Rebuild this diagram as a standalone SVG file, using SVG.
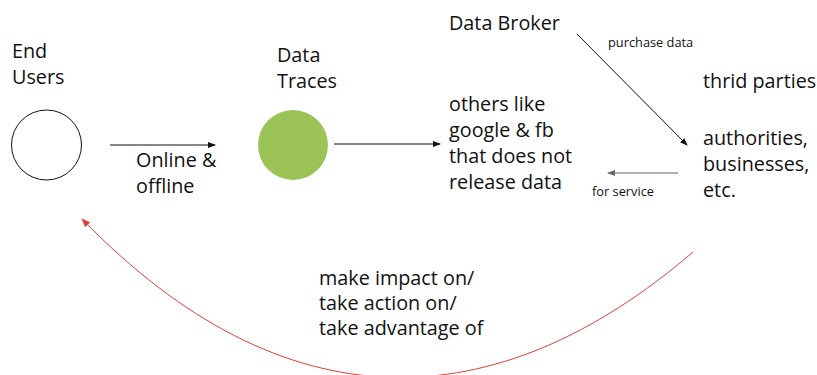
<svg xmlns="http://www.w3.org/2000/svg" width="817" height="375" viewBox="0 0 817 375">
  <style>
    .lbl { font-family: "Open Sans", "Noto Sans", sans-serif; font-size: 19.8px; fill: #111; }
    .small { font-family: "Open Sans", "Noto Sans", sans-serif; font-size: 12.8px; fill: #111; }
    .conn { fill: none; stroke: #111; stroke-width: 1; }
  </style>
  <defs>
    <marker id="arrow" markerUnits="userSpaceOnUse" markerWidth="8" markerHeight="6" refX="7" refY="3" orient="auto">
      <path d="M0,0 L8,3 L0,6 z" fill="#111"/>
    </marker>
    <marker id="arrow-gray" markerUnits="userSpaceOnUse" markerWidth="8" markerHeight="6" refX="7" refY="3" orient="auto">
      <path d="M0,0 L8,3 L0,6 z" fill="#666"/>
    </marker>
    <marker id="arrow-red" markerUnits="userSpaceOnUse" markerWidth="9" markerHeight="7" refX="8" refY="3.5" orient="auto">
      <path d="M0,0 L9,3.5 L0,7 z" fill="#e0403a"/>
    </marker>
  </defs>

  <!-- nodes -->
  <g id="end-users">
    <text class="lbl" x="12" y="58">End</text>
    <text class="lbl" x="12" y="84">Users</text>
    <circle cx="46.5" cy="145" r="35" fill="#fff" stroke="#111" stroke-width="1"/>
  </g>

  <g id="data-traces">
    <text class="lbl" x="277" y="62">Data</text>
    <text class="lbl" x="277" y="88">Traces</text>
    <circle cx="293" cy="145" r="35" fill="#9bc355"/>
  </g>

  <g id="others">
    <text class="lbl" x="449" y="111">others like</text>
    <text class="lbl" x="449" y="137">google &amp; fb</text>
    <text class="lbl" x="449" y="163">that does not</text>
    <text class="lbl" x="449" y="189">release data</text>
  </g>

  <g id="data-broker">
    <text class="lbl" x="449" y="30">Data Broker</text>
  </g>

  <g id="third-parties">
    <text class="lbl" x="703" y="88">thrid parties</text>
    <text class="lbl" x="703" y="145">authorities,</text>
    <text class="lbl" x="703" y="171">businesses,</text>
    <text class="lbl" x="703" y="197">etc.</text>
  </g>

  <!-- connectors -->
  <g id="connectors">
    <line class="conn" x1="110" y1="145" x2="215" y2="145" marker-end="url(#arrow)"/>
    <text class="lbl" x="136" y="167">Online &amp;</text>
    <text class="lbl" x="136" y="193">offline</text>

    <line class="conn" x1="334" y1="144" x2="440" y2="144" marker-end="url(#arrow)"/>

    <line class="conn" x1="577" y1="34" x2="687" y2="145" marker-end="url(#arrow)"/>
    <text class="small" x="608" y="47">purchase data</text>

    <line x1="678" y1="173" x2="608" y2="173" stroke="#666" stroke-width="1" marker-end="url(#arrow-gray)"/>
    <text class="small" x="592" y="196">for service</text>

    <path d="M693,252 C495,422 284,427 82,219" fill="none" stroke="#e0403a" stroke-width="1" marker-end="url(#arrow-red)"/>
    <text class="lbl" x="319" y="285">make impact on/</text>
    <text class="lbl" x="319" y="310">take action on/</text>
    <text class="lbl" x="319" y="335">take advantage of</text>
  </g>
</svg>
